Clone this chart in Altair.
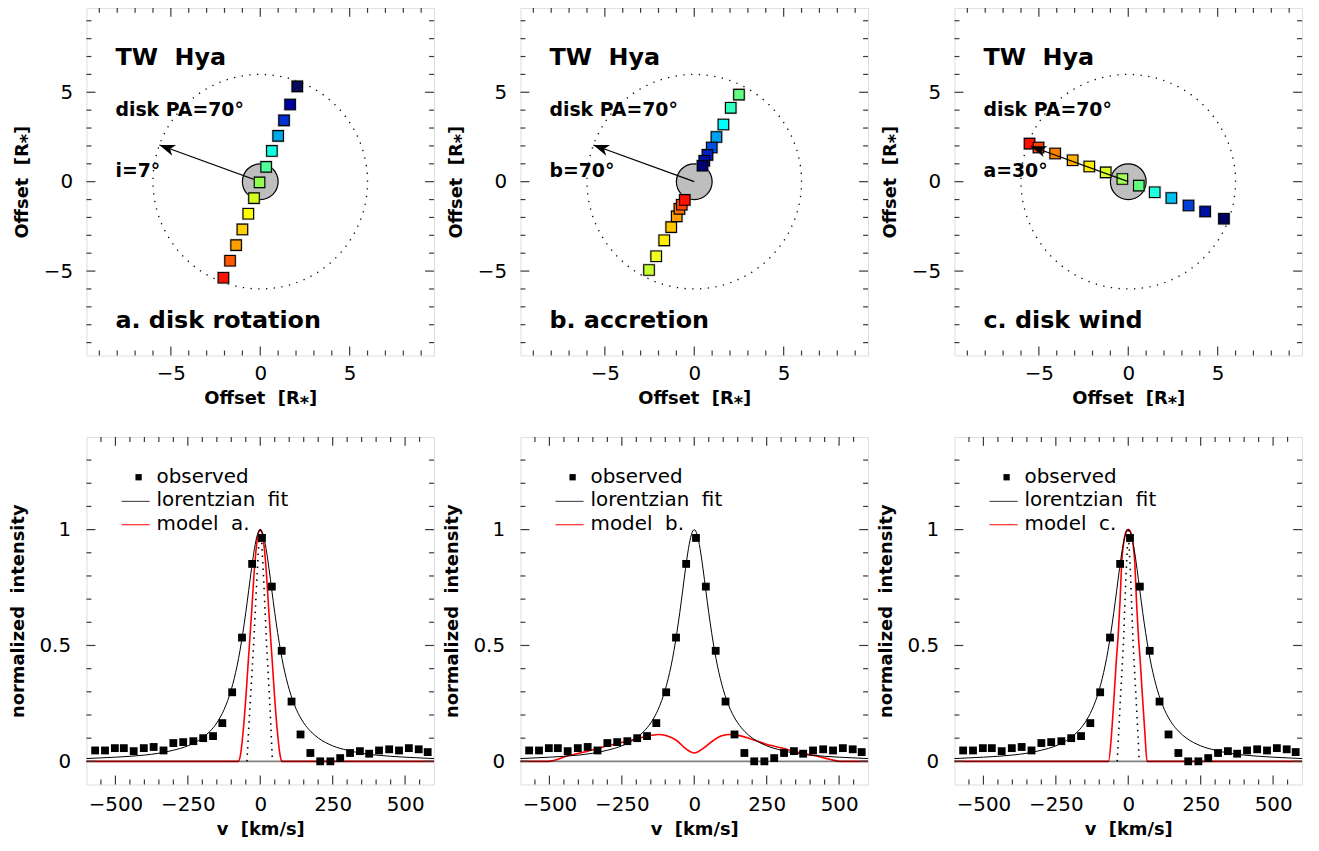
import altair as alt
import pandas as pd
import numpy as np

# ---------------- data ----------------
# top row: projected positions (R*) of the emitting elements, and their colours
a_x = [2.07, 1.67, 1.33, 1.00, 0.65, 0.33, -0.04, -0.35, -0.67, -1.00, -1.35, -1.69, -2.06]
a_y = [5.33, 4.32, 3.43, 2.56, 1.72, 0.83, -0.04, -0.92, -1.79, -2.67, -3.55, -4.42, -5.37]
a_col = ["#0a0a5a", "#0000a0", "#0030d0", "#00a8e8", "#10ffe0", "#50ff98", "#90ff50",
         "#d0ff20", "#ffff00", "#ffd000", "#ffa000", "#ff5800", "#ff1000"]

b_x = [2.50, 2.04, 1.63, 1.24, 0.98, 0.74, 0.56, 0.46,
       -2.53, -2.13, -1.68, -1.29, -0.98, -0.83, -0.70, -0.53]
b_y = [4.87, 4.13, 3.20, 2.50, 1.91, 1.50, 1.17, 0.89,
       -4.94, -4.17, -3.28, -2.54, -1.94, -1.52, -1.29, -1.02]
b_col = ["#60ff80", "#30ffc0", "#00ffff", "#00a0f0", "#0050e0", "#0020c0", "#0010a0", "#000070",
         "#c8ff30", "#f0ff20", "#ffee00", "#ffc800", "#ffa000", "#ff7000", "#ff4000", "#ff1000"]

c_x = [-5.52, -5.02, -4.09, -3.11, -2.18, -1.26, -0.33, 0.59, 1.48, 2.41, 3.37, 4.30, 5.35]
c_y = [2.13, 1.91, 1.58, 1.20, 0.85, 0.52, 0.15, -0.22, -0.59, -0.91, -1.33, -1.67, -2.07]
c_col = ["#ff1000", "#ff4000", "#ff8000", "#ffb000", "#ffee00", "#d8ff20", "#a0ff50",
         "#60ff80", "#20ffe0", "#00c0f0", "#0040d8", "#0010a0", "#000060"]

ring_radius = 6.0          # dotted circle (R*)
star_radius = 1.0          # stellar disk (R*)
arrow_tip_ab = (-5.64, 2.05)
arrow_tip_c = (-5.45, 1.98)

# bottom row: observed profile
obs_v = [-570, -536, -502, -471, -437, -402, -368, -334, -300, -266, -231, -197, -163, -131,
         -97, -63, -28, 6, 40, 74, 108, 139, 173, 207, 242, 276, 310, 344, 376, 410, 445,
         479, 513, 547, 578]
obs_i = [0.047, 0.047, 0.057, 0.057, 0.044, 0.057, 0.062, 0.047, 0.079, 0.083, 0.087, 0.100,
         0.109, 0.165, 0.298, 0.534, 0.852, 0.964, 0.754, 0.477, 0.258, 0.116, 0.036, 0.0,
         0.0, 0.014, 0.036, 0.044, 0.033, 0.047, 0.052, 0.047, 0.057, 0.052, 0.040]

lor_v = [-600, -500, -400, -350, -300, -250, -200, -175, -150, -125, -100, -90, -80, -70, -60,
         -50, -40, -30, -20, -10, 0, 10, 20, 30, 40, 50, 60, 70, 80, 90, 100, 125, 150, 175,
         200, 250, 300, 350, 400, 500, 600]
lor_i = [0.012, 0.018, 0.027, 0.035, 0.048, 0.067, 0.101, 0.128, 0.166, 0.223, 0.31, 0.357,
         0.412, 0.478, 0.555, 0.642, 0.737, 0.833, 0.918, 0.978, 1.0, 0.978, 0.918, 0.833,
         0.737, 0.642, 0.555, 0.478, 0.412, 0.357, 0.31, 0.223, 0.166, 0.128, 0.101, 0.067,
         0.048, 0.035, 0.027, 0.018, 0.012]

ma_v = [-600, -80, -76, -68, -59, -50, -42, -30, -19, -10, 0, 10, 19, 30, 42, 50, 59, 68, 74, 78, 600]
ma_i = [0, 0, 0.0, 0.03, 0.13, 0.27, 0.42, 0.64, 0.85, 0.96, 1.0, 0.96, 0.85, 0.64, 0.42,
        0.27, 0.13, 0.03, 0.0, 0, 0]
da_v = [-46, -35, -23, -12, -4, 0, 4, 12, 22, 33, 42]
da_i = [0, 0.25, 0.5, 0.78, 0.97, 1.0, 0.97, 0.78, 0.5, 0.25, 0]

mb_v = [-600, -505, -431, -380, -315, -260, -223, -170, -125, -95, -61, -30, 0, 30, 66, 95,
        124, 160, 193, 230, 262, 310, 354, 400, 435, 470, 505, 600]
mb_i = [0, 0, 0.026, 0.04, 0.062, 0.078, 0.09, 0.106, 0.116, 0.11, 0.09, 0.055, 0.036, 0.055,
        0.09, 0.11, 0.116, 0.11, 0.097, 0.082, 0.069, 0.055, 0.04, 0.028, 0.019, 0.008, 0, 0]

mc_v = [-600, -72, -68, -57, -49, -42, -34, -28, -23, -15, -6, 0, 6, 15, 23, 28, 34, 42, 49, 57, 65, 69, 600]
mc_i = [0, 0, 0.0, 0.13, 0.28, 0.42, 0.56, 0.7, 0.85, 0.95, 0.995, 1.0, 0.995, 0.95, 0.85,
        0.7, 0.56, 0.42, 0.28, 0.13, 0.0, 0, 0]
dc_v = [-38, -28, -17, -8, 0, 8, 17, 28, 38]
dc_i = [0, 0.25, 0.5, 0.8, 1.0, 0.8, 0.5, 0.25, 0]

# tick values
off_major = [-5, 0, 5]
off_minor = [t for t in range(-9, 10) if t % 5 != 0]
v_major = [-500, -250, 0, 250, 500]
v_minor = [t for t in range(-550, 551, 50) if t % 250 != 0]
i_major = [0, 0.5, 1]
i_minor = [round(0.1 * k, 1) for k in range(1, 14) if k not in (5, 10)]

# ---------------- styling ----------------
W = 350
H = 350
FONT = "DejaVu Sans"
FRAME = "#3a3a3a"
SP = "\u00a0\u00a0"
OFF_DOM = [-9.72, 9.72]
V_DOM = [-600, 600]
I_DOM = [-0.1, 1.4]
PPU = W / (OFF_DOM[1] - OFF_DOM[0])

off_scale = alt.Scale(domain=OFF_DOM, nice=False, zero=False)
v_scale = alt.Scale(domain=V_DOM, nice=False, zero=False)
i_scale = alt.Scale(domain=I_DOM, nice=False, zero=False)

def xaxis(title, values, pad, fmt):
    return alt.Axis(title=title, values=values, format=fmt, ticks=False, domain=False, grid=False,
                    labelFont=FONT, labelFontSize=20, labelColor="black", labelPadding=pad,
                    titleFont=FONT, titleFontSize=18, titleFontWeight="bold", titleColor="black",
                    titlePadding=6)

def yaxis(title, values, pad, tpad, fmt):
    return alt.Axis(title=title, values=values, format=fmt, ticks=False, domain=False, grid=False,
                    labelFont=FONT, labelFontSize=20, labelColor="black", labelPadding=pad,
                    titleFont=FONT, titleFontSize=18, titleFontWeight="bold", titleColor="black",
                    titlePadding=tpad)

def tick_layers(xmaj, xmin, ymaj, ymin, X, Y):
    out = []
    for vals, L in ((xmaj, 9), (xmin, 5)):
        df = pd.DataFrame({"t": vals})
        base = alt.Chart(df).mark_rule(color=FRAME, strokeWidth=1.2)
        out.append(base.encode(x=X("t"), y=alt.value(0), y2=alt.value(L)))
        out.append(base.encode(x=X("t"), y=alt.value(H - L), y2=alt.value(H)))
    for vals, L in ((ymaj, 9), (ymin, 5)):
        df = pd.DataFrame({"t": vals})
        base = alt.Chart(df).mark_rule(color=FRAME, strokeWidth=1.2)
        out.append(base.encode(y=Y("t"), x=alt.value(0), x2=alt.value(L)))
        out.append(base.encode(y=Y("t"), x=alt.value(W - L), x2=alt.value(W)))
    return out

def text_layer(df, X, Y, size, weight):
    return alt.Chart(df).mark_text(align="left", baseline="alphabetic", font=FONT, fontSize=size,
                                   fontWeight=weight, color="black").encode(
        x=X("x"), y=Y("y"), text="s:N")

# ---------------- top row ----------------
def top_panel(xs, ys, cols, angle_label, letter_label, tip, arrow_on_top):
    ax_x = xaxis("Offset" + SP + "[R\u204e]", off_major, 8, "d")
    ax_y = yaxis("Offset" + SP + "[R\u204e]", off_major, 14, 12, "d")
    X = lambda f: alt.X(f, type="quantitative", scale=off_scale, axis=ax_x)
    Y = lambda f: alt.Y(f, type="quantitative", scale=off_scale, axis=ax_y)

    th = np.linspace(0, 2 * np.pi, 181)
    ring = pd.DataFrame({"x": ring_radius * np.cos(th), "y": ring_radius * np.sin(th),
                         "k": np.arange(th.size)})
    ring_l = alt.Chart(ring).mark_line(color="black", strokeWidth=1.3, strokeDash=[1.3, 6.5]).encode(
        x=X("x"), y=Y("y"), order="k:Q")

    star = pd.DataFrame({"x": [0.0], "y": [0.0]})
    star_l = alt.Chart(star).mark_point(shape="circle", filled=True, fill="#bebebe", stroke="black",
                                        strokeWidth=1.2, opacity=1,
                                        size=(2 * star_radius * PPU) ** 2).encode(x=X("x"), y=Y("y"))

    sq = pd.DataFrame({"x": xs, "y": ys, "c": cols, "k": np.arange(len(xs))})
    halo_l = alt.Chart(sq).mark_square(size=170, color="#9a9a9a", opacity=0.55).encode(
        x=X("x"), y=Y("y"), order="k:Q")
    sq_l = alt.Chart(sq).mark_square(size=112, opacity=1, stroke="black", strokeWidth=1.1).encode(
        x=X("x"), y=Y("y"), fill=alt.Fill("c:N", scale=None), order="k:Q")

    arr = pd.DataFrame({"x": [0.0], "y": [0.0], "x2": [tip[0]], "y2": [tip[1]]})
    shaft = alt.Chart(arr).mark_rule(color="black", strokeWidth=1.2).encode(
        x=X("x"), y=Y("y"), x2="x2:Q", y2="y2:Q")
    head = alt.Chart(arr).mark_point(shape="M0,0L0.36,1L0,0.72L-0.36,1Z", filled=True, color="black",
                                     opacity=1, size=1000, angle=290).encode(x=X("x2"), y=Y("y2"))

    texts = [
        text_layer(pd.DataFrame({"x": [-8.1], "y": [6.5], "s": ["TW" + SP + "Hya"]}), X, Y, 24, "bold"),
        text_layer(pd.DataFrame({"x": [-8.1], "y": [3.67], "s": ["disk PA=70\u00b0"]}), X, Y, 19, "bold"),
        text_layer(pd.DataFrame({"x": [-8.1], "y": [0.26], "s": [angle_label]}), X, Y, 19, "bold"),
        text_layer(pd.DataFrame({"x": [-8.1], "y": [-8.2], "s": [letter_label]}), X, Y, 24, "bold"),
    ]
    layers = [ring_l, star_l]
    if arrow_on_top:
        layers += [halo_l, sq_l, shaft, head]
    else:
        layers += [shaft, head, halo_l, sq_l]
    layers += texts + tick_layers(off_major, off_minor, off_major, off_minor, X, Y)
    return alt.layer(*layers).properties(width=W, height=H)

# ---------------- bottom row ----------------
def bottom_panel(mv, mi, dv, di, model_label):
    ax_x = xaxis("v" + SP + "[km/s]", v_major, 10, "d")
    ax_y = yaxis("normalized" + SP + "intensity", i_major, 16, 12, "~g")
    X = lambda f: alt.X(f, type="quantitative", scale=v_scale, axis=ax_x)
    Y = lambda f: alt.Y(f, type="quantitative", scale=i_scale, axis=ax_y)

    model = alt.Chart(pd.DataFrame({"x": mv, "y": mi})).mark_line(
        color="#ff0000", strokeWidth=1.6, interpolate="monotone").encode(x=X("x"), y=Y("y"))
    zero = alt.Chart(pd.DataFrame({"y": [0.0]})).mark_rule(color="black", opacity=0.5,
                                                           strokeWidth=1.8).encode(y=Y("y"))
    lor = alt.Chart(pd.DataFrame({"x": lor_v, "y": lor_i})).mark_line(
        color="black", strokeWidth=1.0, interpolate="monotone").encode(x=X("x"), y=Y("y"))
    layers = [model, zero, lor]
    if dv is not None:
        dot = alt.Chart(pd.DataFrame({"x": dv, "y": di})).mark_line(
            color="black", strokeWidth=1.6, strokeDash=[1.5, 5]).encode(x=X("x"), y=Y("y"))
        layers.append(dot)
    obs = alt.Chart(pd.DataFrame({"x": obs_v, "y": obs_i})).mark_square(
        size=62, color="black", opacity=1).encode(x=X("x"), y=Y("y"))
    layers.append(obs)

    # legend
    leg_sq = alt.Chart(pd.DataFrame({"x": [-420], "y": [1.226]})).mark_square(
        size=40, color="black", opacity=1).encode(x=X("x"), y=Y("y"))
    leg_lor = alt.Chart(pd.DataFrame({"x": [-479], "x2": [-382], "y": [1.122]})).mark_rule(
        color="#333", strokeWidth=1.0).encode(x=X("x"), x2="x2:Q", y=Y("y"))
    leg_mod = alt.Chart(pd.DataFrame({"x": [-479], "x2": [-382], "y": [1.021]})).mark_rule(
        color="#ff0000", strokeWidth=1.0).encode(x=X("x"), x2="x2:Q", y=Y("y"))
    leg_txt = text_layer(pd.DataFrame({"x": [-358, -358, -358], "y": [1.20, 1.10, 1.00],
                                       "s": ["observed", "lorentzian" + SP + "fit",
                                             model_label.replace(" ", SP)]}),
                         X, Y, 20, "normal")
    layers += [leg_sq, leg_lor, leg_mod, leg_txt]
    layers += tick_layers(v_major, v_minor, i_major, i_minor, X, Y)
    return alt.layer(*layers).properties(width=W, height=H)

panels = [
    top_panel(a_x, a_y, a_col, "i=7\u00b0", "a. disk rotation", arrow_tip_ab, False),
    top_panel(b_x, b_y, b_col, "b=70\u00b0", "b. accretion", arrow_tip_ab, False),
    top_panel(c_x, c_y, c_col, "a=30\u00b0", "c. disk wind", arrow_tip_c, True),
    bottom_panel(ma_v, ma_i, da_v, da_i, "model a."),
    bottom_panel(mb_v, mb_i, None, None, "model b."),
    bottom_panel(mc_v, mc_i, dc_v, dc_i, "model c."),
]

chart = alt.concat(*panels, columns=3, spacing={"row": 82, "column": 87}, bounds="flush").properties(
    padding={"left": 0, "top": -5, "right": 5, "bottom": 0}
).configure_view(stroke=FRAME, strokeWidth=1.5).configure(background="white")

chart.save("out.html", embed_options={"renderer": "svg", "actions": False})
